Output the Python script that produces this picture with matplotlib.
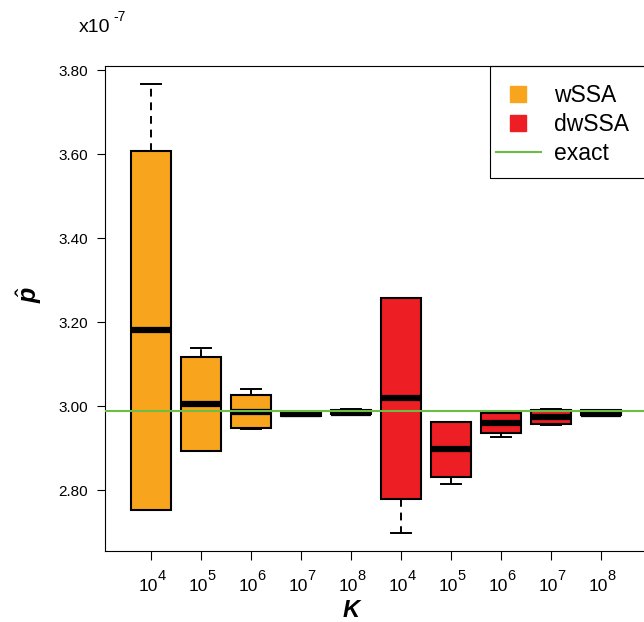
import matplotlib
matplotlib.use("Agg")
import matplotlib.pyplot as plt
from matplotlib.lines import Line2D
from matplotlib.patches import Rectangle

# box statistics, in units of 1e-7
k_labels = ["4", "5", "6", "7", "8", "4", "5", "6", "7", "8"]
methods = ["wSSA"] * 5 + ["dwSSA"] * 5

whis_lo = [2.752, 2.893, 2.946, 2.976, 2.980, 2.698, 2.815, 2.927, 2.954, 2.977]
q1 = [2.752, 2.893, 2.948, 2.977, 2.980, 2.779, 2.832, 2.935, 2.957, 2.978]
median = [3.181, 3.005, 2.986, 2.980, 2.983, 3.019, 2.897, 2.959, 2.975, 2.982]
q3 = [3.607, 3.117, 3.026, 2.985, 2.991, 3.258, 2.961, 2.983, 2.990, 2.990]
whis_hi = [3.767, 3.138, 3.040, 2.986, 2.992, 3.258, 2.961, 2.985, 2.994, 2.991]

exact = 2.989

colors = {"wSSA": "#F8A51D", "dwSSA": "#ED1F24"}
green = "#6CBD45"

plt.rcParams["font.family"] = ["Liberation Sans", "DejaVu Sans"]
plt.rcParams["mathtext.fontset"] = "custom"
plt.rcParams["mathtext.rm"] = "Liberation Sans"
plt.rcParams["mathtext.it"] = "Liberation Sans:italic"
plt.rcParams["mathtext.bf"] = "Liberation Sans:bold"
plt.rcParams["mathtext.bfit"] = "Liberation Sans:bold:italic"

fig = plt.figure(figsize=(6.44, 6.22), dpi=100)
ax = fig.add_axes([105 / 644, 71 / 622, 542 / 644, 485 / 622])

stats = []
for i in range(len(median)):
    stats.append({
        "whislo": whis_lo[i], "q1": q1[i], "med": median[i],
        "q3": q3[i], "whishi": whis_hi[i], "fliers": [],
    })

positions = list(range(1, len(stats) + 1))
bp = ax.bxp(
    stats,
    positions=positions,
    widths=0.8,
    capwidths=0.4,
    patch_artist=True,
    showfliers=False,
    boxprops=dict(edgecolor="black", linewidth=1.5),
    medianprops=dict(color="black", linewidth=4.5, solid_capstyle="butt"),
    whiskerprops=dict(color="black", linewidth=1.4, linestyle=(0, (4, 3))),
    capprops=dict(color="black", linewidth=1.4),
)
for patch, m in zip(bp["boxes"], methods):
    patch.set_facecolor(colors[m])

ax.axhline(exact, color=green, linewidth=1.5, zorder=5)

ax.set_xlim(0.08, 10.92)
ax.set_ylim(2.6546, 3.8107)
yt = [2.8, 3.0, 3.2, 3.4, 3.6, 3.8]
ax.set_yticks(yt)
ax.set_yticklabels(["%.2f" % v for v in yt], fontsize=11)
ax.set_xticks(positions)
ax.set_xticklabels([])
# "10" + near full-size exponent, like the R plot
for p, k in zip(positions, k_labels):
    ax.annotate("10", xy=(p, 0), xycoords=("data", "axes fraction"),
                xytext=(4.8, -28.8), textcoords="offset points",
                fontsize=12.5, ha="right", va="baseline")
    ax.annotate(k, xy=(p, 0), xycoords=("data", "axes fraction"),
                xytext=(4.5, -21.2), textcoords="offset points",
                fontsize=10.5, ha="left", va="baseline")
ax.tick_params(axis="x", length=6.5, width=0.8)
ax.tick_params(axis="y", length=6, width=0.8, pad=6)
for s in ax.spines.values():
    s.set_linewidth(0.8)

# legend frame + entries
ax.add_patch(Rectangle((0.710, 0.769), 0.4, 0.231, transform=ax.transAxes,
                       fill=False, edgecolor="black", linewidth=0.8,
                       clip_on=False, zorder=6))
handles = [
    Line2D([], [], ls="none", marker="s", markersize=11, color=colors["wSSA"]),
    Line2D([], [], ls="none", marker="s", markersize=11, color=colors["dwSSA"]),
    Line2D([], [], color=green, linewidth=1.5),
]
ax.legend(handles, ["wSSA", "dwSSA", "exact"], loc="upper left",
          bbox_to_anchor=((496 - 105) / 542, (551 - 84) / 485),
          frameon=False, borderpad=0, borderaxespad=0, handlelength=1.95,
          handletextpad=0.6, labelspacing=0.27, fontsize=16.5)

fig.text(352 / 644, 1 - 617 / 622, r"$\mathbfit{K}$", fontsize=17,
         ha="center", va="baseline")
fig.text(29 / 644, 1 - 294 / 622, r"$\hat{\mathbfit{p}}$", fontsize=18,
         rotation=90, ha="center", va="center")
fig.text(79 / 644, 1 - 27 / 622, "x10", fontsize=14, ha="left", va="center")
fig.text(113 / 644, 1 - 17 / 622, "-7", fontsize=10, ha="left", va="center")

fig.savefig("out.png", dpi=100)
